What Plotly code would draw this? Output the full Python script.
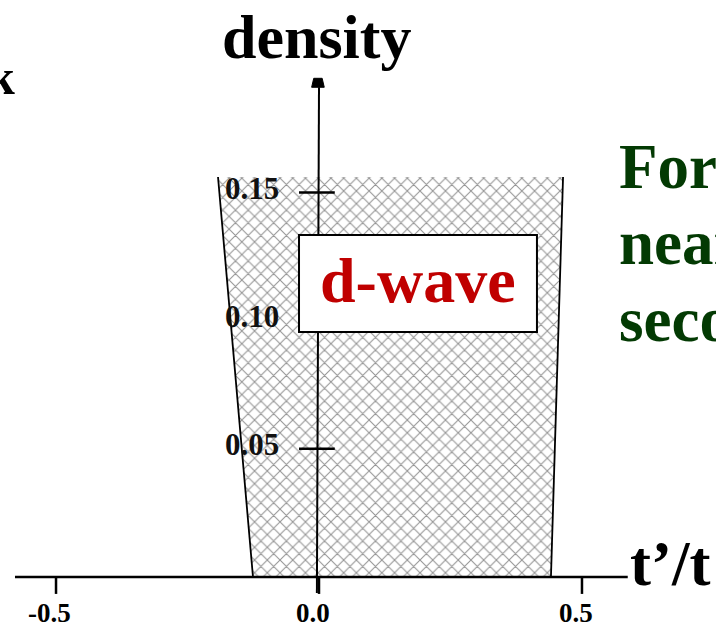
import plotly.graph_objects as go

# Phase boundary of the d-wave region in the (t'/t, density) plane
left_tp = [-0.1255, -0.192]      # t'/t along the left boundary
left_n = [0.0, 0.156]            # density along the left boundary
right_tp = [0.464, 0.441]        # t'/t along the right boundary
right_n = [0.156, 0.0]           # density along the right boundary

x_ticks = [-0.5, 0.0, 0.5]
x_tick_labels = ["-0.5", "0.0", "0.5"]
y_ticks = [0.05, 0.10, 0.15]
y_tick_labels = ["0.05", "0.10", "0.15"]

X_RANGE = [-0.6065, 0.7548]
Y_RANGE = [-0.02106, 0.22504]
SERIF = "Liberation Serif, Times New Roman, serif"

fig = go.Figure()

# shaded d-wave region
fig.add_trace(go.Scatter(
    x=left_tp + right_tp + [left_tp[0]],
    y=left_n + right_n + [left_n[0]],
    mode="lines", fill="toself", fillcolor="white",
    fillpattern=dict(shape="x", fgcolor="#2a2a2a", bgcolor="white", size=9, solidity=0.22),
    line=dict(width=0), hoverinfo="skip", showlegend=False,
))
# boundary lines
for xs, ys in ((left_tp, left_n), (right_tp, right_n)):
    fig.add_trace(go.Scatter(x=xs, y=ys, mode="lines",
                             line=dict(color="black", width=1.8),
                             hoverinfo="skip", showlegend=False))

shapes = []
# x axis
shapes.append(dict(type="line", xref="x", yref="y", x0=-0.578, x1=0.587, y0=0, y1=0,
                   line=dict(color="black", width=2.5)))
# y axis
y_top = 0.191
shapes.append(dict(type="line", xref="x", yref="y", x0=-0.004, x1=0.0, y0=-0.0062, y1=y_top,
                   line=dict(color="black", width=2)))
# arrow head on y axis
ah = 0.0035
shapes.append(dict(type="path", xref="x", yref="y",
                   path=f"M {-0.014} {y_top} L {0.010} {y_top} L {0.006} {y_top + ah} L {-0.010} {y_top + ah} Z",
                   fillcolor="black", line=dict(color="black", width=1)))
for t in x_ticks:
    shapes.append(dict(type="line", xref="x", yref="y", x0=t, x1=t, y0=0, y1=-0.0066,
                       line=dict(color="black", width=2.5)))
for t in y_ticks:
    shapes.append(dict(type="line", xref="x", yref="y", x0=-0.038, x1=0.030, y0=t, y1=t,
                       line=dict(color="black", width=2.5)))
# label box
shapes.append(dict(type="rect", xref="x", yref="y", x0=-0.038, x1=0.4144, y0=0.0956, y1=0.1334,
                   fillcolor="white", line=dict(color="black", width=2)))

annotations = []
for t, lab in zip(x_ticks, x_tick_labels):
    annotations.append(dict(x=t - 0.012, y=-0.0142, xref="x", yref="y", text=f"<b>{lab}</b>",
                            showarrow=False, font=dict(family=SERIF, size=27, color="black"),
                            xanchor="center", yanchor="middle"))
for t, lab in zip(y_ticks, y_tick_labels):
    annotations.append(dict(x=-0.073, y=t + 0.0015, xref="x", yref="y", text=f"<b>{lab}</b>",
                            showarrow=False, font=dict(family=SERIF, size=31, color="#111111"),
                            xanchor="right", yanchor="middle"))

annotations += [
    dict(x=-0.004, y=0.2105, xref="x", yref="y", text="<b>density</b>", showarrow=False,
         font=dict(family=SERIF, size=62, color="black"), xanchor="center", yanchor="middle"),
    dict(x=0.587, y=0.0052, xref="x", yref="y", text="<b>t’/t</b>", showarrow=False,
         font=dict(family=SERIF, size=63, color="black"), xanchor="left", yanchor="middle"),
    dict(x=0.188, y=0.1155, xref="x", yref="y", text="<b>d-wave</b>", showarrow=False,
         font=dict(family=SERIF, size=64, color="#c00000"), xanchor="center", yanchor="middle"),
    dict(x=-0.575, y=0.1950, xref="x", yref="y", text="<b>k</b>", showarrow=False,
         font=dict(family=SERIF, size=50, color="black"), xanchor="right", yanchor="middle"),
]
green = "#033a03"
for i, word in enumerate(["For", "nearest", "second"]):
    annotations.append(dict(x=0.566, y=0.1600 - i * 0.0298, xref="x", yref="y",
                            text=f"<b>{word}</b>", showarrow=False,
                            font=dict(family=SERIF, size=63, color=green),
                            xanchor="left", yanchor="middle"))

fig.update_layout(
    width=716, height=631, margin=dict(l=0, r=0, t=0, b=0),
    paper_bgcolor="white", plot_bgcolor="white",
    xaxis=dict(range=X_RANGE, visible=False, fixedrange=True),
    yaxis=dict(range=Y_RANGE, visible=False, fixedrange=True),
    shapes=shapes, annotations=annotations, showlegend=False,
)

fig.write_html("out.html")
